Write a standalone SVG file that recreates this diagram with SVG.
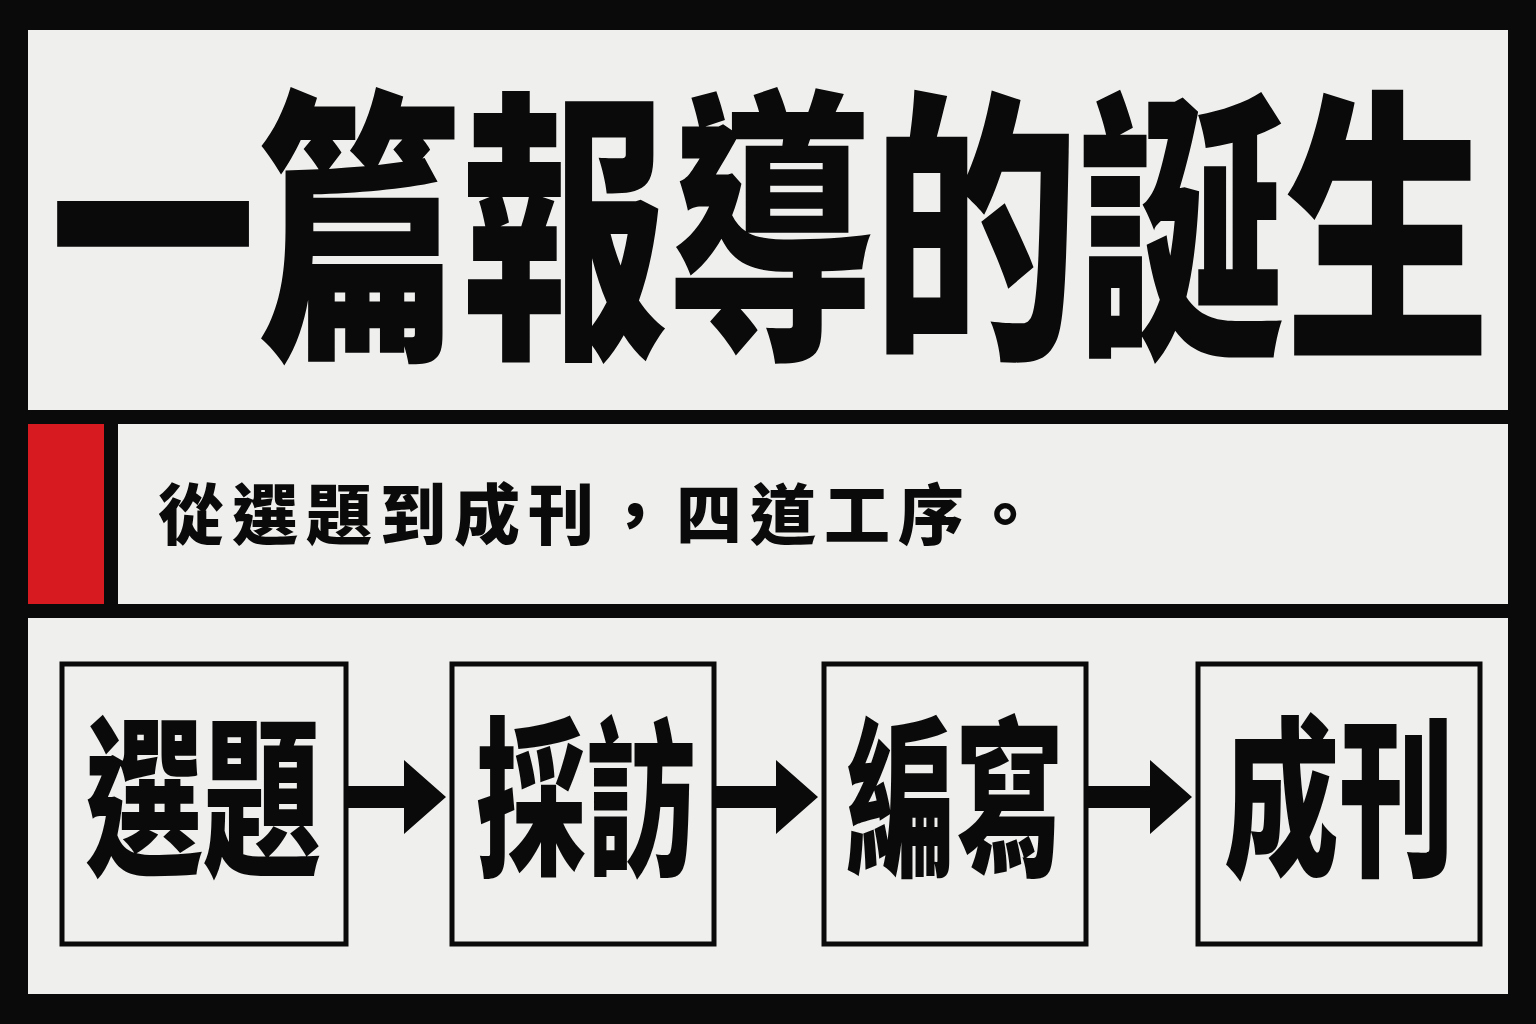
<svg xmlns="http://www.w3.org/2000/svg" width="1536" height="1024" viewBox="0 0 1536 1024">
<style>
.p{fill:#efefed}
.t{font-family:"Noto Sans CJK TC","Noto Sans CJK SC",sans-serif;font-weight:900;fill:#0a0a0a}
.b{fill:none;stroke:#0a0a0a;stroke-width:5}
.a{fill:#0a0a0a}
</style>
<rect width="1536" height="1024" fill="#0a0a0a"/>
<rect class="p" x="28" y="30" width="1480" height="380"/>
<rect class="p" x="118" y="424" width="1390" height="180"/>
<rect x="28" y="424" width="76" height="180" fill="#d71920"/>
<rect class="p" x="28" y="618" width="1480" height="376"/>
<text class="t" x="50" y="336" font-size="288" textLength="1440" lengthAdjust="spacingAndGlyphs">一篇報導的誕生</text>
<text class="t" x="158" y="539" font-size="66" textLength="880" lengthAdjust="spacing">從選題到成刊，四道工序。</text>
<g id="n1"><rect class="b" x="62" y="664" width="284" height="280"/><text class="t" x="85" y="862" font-size="172" textLength="236" lengthAdjust="spacingAndGlyphs">選題</text></g>
<g id="n2"><rect class="b" x="452" y="664" width="262" height="280"/><text class="t" x="476" y="862" font-size="172" textLength="220" lengthAdjust="spacingAndGlyphs">採訪</text></g>
<g id="n3"><rect class="b" x="824" y="664" width="262" height="280"/><text class="t" x="846" y="862" font-size="172" textLength="218" lengthAdjust="spacingAndGlyphs">編寫</text></g>
<g id="n4"><rect class="b" x="1198" y="664" width="282" height="280"/><text class="t" x="1224" y="862" font-size="172" textLength="230" lengthAdjust="spacingAndGlyphs">成刊</text></g>
<g id="connectors">
<polygon class="a" points="348,786 404,786 404,760 446,797 404,834 404,808 348,808"/>
<polygon class="a" points="716,786 776,786 776,760 818,797 776,834 776,808 716,808"/>
<polygon class="a" points="1088,786 1150,786 1150,760 1192,797 1150,834 1150,808 1088,808"/>
</g>
</svg>
